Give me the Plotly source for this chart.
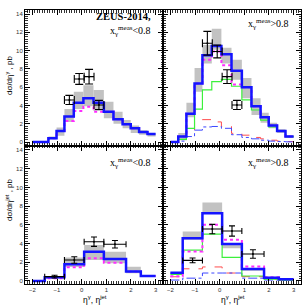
import plotly.graph_objects as go
from plotly.subplots import make_subplots

# ---------------- data ----------------
gam_edges = [-2.0, -1.68, -1.35, -1.02, -0.70, -0.32, 0.07, 0.48, 0.90, 1.29, 1.66, 1.99, 2.33, 2.67, 3.0]
jet_edges = [-2.0, -1.5, -0.7, 0.1, 0.9, 1.8, 2.4, 3.0]

# top-left: x_gamma^meas < 0.8, dsigma/deta^gamma
tl_blue = [0, 0, 0.4, 1.2, 2.8, 4.3, 4.8, 4.3, 3.3, 2.5, 1.95, 1.5, 1.1, 0.87]
tl_pink = [0, 0, 0.4, 1.2, 2.3, 3.4, 3.85, 3.3, 3.3, 2.5, 1.95, 1.5, 1.1, 0.87]
tl_lo = [0, 0, 0.3, 0.7, 2.2, 3.6, 3.9, 3.4, 2.6, 2.0, 1.5, 1.0, 0.8, 0.6]
tl_hi = [0, 0, 0.6, 1.6, 3.6, 5.5, 6.2, 5.7, 4.4, 3.3, 2.4, 1.8, 1.3, 1.0]

# top-right: x_gamma^meas > 0.8, dsigma/deta^gamma
tr_blue = [0, 0.6, 3.1, 6.4, 9.5, 10.5, 9.6, 7.8, 6.0, 3.9, 2.7, 1.8, 1.2, 0.6]
tr_pink = [0, 0.6, 3.1, 6.4, 9.0, 9.9, 8.4, 6.3, 6.0, 3.9, 2.7, 1.8, 1.2, 0.6]
tr_lo = [0, 0.2, 2.7, 5.5, 8.6, 10.1, 8.6, 6.8, 4.8, 2.95, 2.1, 1.5, 1.0, 0.45]
tr_hi = [0, 1.0, 4.3, 8.1, 10.6, 12.4, 10.3, 9.0, 7.0, 4.8, 3.2, 2.1, 1.4, 0.75]
tr_green = [0, 0.3, 1.5, 3.6, 5.7, 6.6, 6.85, 6.1, 4.6, 3.5, 2.4, 1.65, 1.15, 0.6]
tr_red = [0, 0.2, 1.1, 2.4, 2.45, 2.2, 1.7, 0.95, 0.75, 0.5, 0.35, 0.2, 0.1, 0.05]
tr_dashdot = [0, 0.1, 0.6, 1.3, 1.65, 1.7, 1.5, 0.8, 0.5, 0.35, 0.2, 0.1, 0.05, 0.02]

# bottom-left: x_gamma^meas < 0.8, dsigma/deta^jet
bl_blue = [0, 0.4, 1.78, 3.13, 2.35, 1.0, 0.53]
bl_pink = [0, 0.3, 1.46, 2.42, 1.96, 1.0, 0.53]
bl_lo = [0, 0.25, 1.5, 2.24, 1.9, 0.82, 0.45]
bl_hi = [0, 0.5, 2.5, 3.85, 3.13, 1.53, 0.6]

# bottom-right: x_gamma^meas > 0.8, dsigma/deta^jet
br_blue = [0.89, 4.56, 7.25, 3.95, 1.27, 0.35, 0.18]
br_pink = [0.5, 3.15, 6.0, 4.4, 1.55, 0.4, 0.18]
br_lo = [0.7, 4.4, 7.2, 3.5, 1.1, 0.3, 0.1]
br_hi = [0.95, 5.3, 8.4, 4.0, 1.4, 0.45, 0.25]
br_green = [0.7, 3.3, 5.0, 2.53, 0.53, 0.2, 0.1]
br_red = [0.45, 1.3, 1.5, 0.85, 0.46, 0.2, 0.05]
br_dashdot = [0.1, 0.3, 0.85, 0.85, 0.3, 0.1, 0.05]

# ZEUS data
gam_x = [-0.5, -0.1, 0.3, 0.7]
gam_xerr = [0.2, 0.2, 0.2, 0.2]
tl_data = [4.6, 6.9, 7.15, 4.05]
tl_err = [0.5, 0.6, 0.8, 0.5]
tr_data = [10.8, 9.9, 7.15, 4.05]
tr_err = [1.3, 0.7, 0.75, 0.5]

jet_x = [-1.1, -0.3, 0.5, 1.35]
jet_xerr = [0.4, 0.4, 0.4, 0.45]
bl_data = [0.46, 2.24, 4.2, 3.92]
bl_err = [0.15, 0.35, 0.5, 0.4]
br_data = [2.2, 5.55, 5.34, 2.88]
br_err = [0.25, 0.5, 0.55, 0.45]

y_ticks = [0, 2, 4, 6, 8, 10, 12, 14]
x_ticks = [-2, -1, 0, 1, 2, 3]

# ---------------- figure ----------------
W = H = 305
fig = make_subplots(rows=2, cols=2, horizontal_spacing=0, vertical_spacing=0)


def step(edges, vals, color, width, dash, r, c):
    fig.add_trace(go.Scatter(x=edges, y=list(vals) + [vals[-1]], mode="lines",
                             line=dict(color=color, width=width, dash=dash, shape="hv"),
                             showlegend=False, hoverinfo="skip"), row=r, col=c)


def band(edges, lo, hi, r, c):
    centers = [(edges[i] + edges[i + 1]) / 2 for i in range(len(lo))]
    widths = [edges[i + 1] - edges[i] for i in range(len(lo))]
    fig.add_trace(go.Bar(x=centers, y=[h - l for l, h in zip(lo, hi)], base=lo, width=widths,
                         marker=dict(color="#c2c2c2", line=dict(width=0)),
                         showlegend=False, hoverinfo="skip"), row=r, col=c)


def data(x, xe, y, ye, r, c, cap):
    fig.add_trace(go.Scatter(x=x, y=y, mode="markers",
                             marker=dict(color="black", size=2),
                             error_x=dict(type="data", array=xe, color="black", thickness=1.1, width=cap),
                             error_y=dict(type="data", array=ye, color="black", thickness=1.1, width=cap),
                             showlegend=False, hoverinfo="skip"), row=r, col=c)


BLUE = "#1414ff"
PINK = "#ff2cff"
GREEN = "#3cf03c"
RED = "#ff4d4d"
DBLUE = "#3c46ff"

# top-left
band(gam_edges, tl_lo, tl_hi, 1, 1)
step(gam_edges, tl_pink, PINK, 2, "dot", 1, 1)
step(gam_edges, tl_blue, BLUE, 2.5, "solid", 1, 1)
data(gam_x, gam_xerr, tl_data, tl_err, 1, 1, 4)

# top-right
band(gam_edges, tr_lo, tr_hi, 1, 2)
step(gam_edges, tr_red, RED, 1, "dash", 1, 2)
step(gam_edges, tr_dashdot, DBLUE, 1, "dashdot", 1, 2)
step(gam_edges, tr_green, GREEN, 1.2, "solid", 1, 2)
step(gam_edges, tr_pink, PINK, 2, "dot", 1, 2)
step(gam_edges, tr_blue, BLUE, 2.5, "solid", 1, 2)
data(gam_x, gam_xerr, tr_data, tr_err, 1, 2, 4)

# bottom-left
band(jet_edges, bl_lo, bl_hi, 2, 1)
step(jet_edges, bl_pink, PINK, 2, "dot", 2, 1)
step(jet_edges, bl_blue, BLUE, 2.5, "solid", 2, 1)
data(jet_x, jet_xerr, bl_data, bl_err, 2, 1, 3)

# bottom-right
band(jet_edges, br_lo, br_hi, 2, 2)
step(jet_edges, br_red, RED, 1, "dash", 2, 2)
step(jet_edges, br_dashdot, DBLUE, 1, "dashdot", 2, 2)
step(jet_edges, br_green, GREEN, 1.2, "solid", 2, 2)
step(jet_edges, br_pink, PINK, 2, "dot", 2, 2)
step(jet_edges, br_blue, BLUE, 2.5, "solid", 2, 2)
data(jet_x, jet_xerr, br_data, br_err, 2, 2, 3)

# geometry (pixels -> paper)
xL0, xM, xR1 = 25 / W, 163 / W, 301 / W
yT1, yMid, yB0 = 1 - 10 / H, 1 - 145.5 / H, 1 - 283.5 / H

tickfont = dict(family="Liberation Sans, Arial, sans-serif", size=6, color="#333")
common = dict(showline=True, linecolor="black", linewidth=1, mirror="allticks",
              ticks="inside", ticklen=5, tickwidth=1, tickcolor="black",
              showgrid=False, zeroline=False, tickfont=tickfont)

for r in (1, 2):
    for c in (1, 2):
        xd = [xL0, xM] if c == 1 else [xM, xR1]
        yd = [yMid, yT1] if r == 1 else [yB0, yMid]
        fig.update_xaxes(domain=xd, range=[-2.3, 3.3], tickvals=x_ticks,
                         showticklabels=(r == 2),
                         minor=dict(ticks="inside", dtick=0.1, tick0=0, ticklen=2.5,
                                    tickcolor="black", tickwidth=0.8),
                         **common, row=r, col=c)
        yr = [-0.38, 14.44] if r == 1 else [-0.27, 14.48]
        fig.update_yaxes(domain=yd, range=yr, tickvals=y_ticks,
                         showticklabels=(c == 1),
                         minor=dict(ticks="inside", dtick=0.25, tick0=0, ticklen=2.5,
                                    tickcolor="black", tickwidth=0.8),
                         **common, row=r, col=c)

serif = "Liberation Serif, Times New Roman, serif"
sans = "Liberation Sans, Arial, sans-serif"
ann = []


def A(text, px, py, size, family, xanchor="center", angle=0, yanchor="middle"):
    ann.append(dict(text=text, x=px / W, y=1 - py / H, xref="paper", yref="paper",
                    showarrow=False, xanchor=xanchor, yanchor=yanchor, textangle=angle,
                    font=dict(family=family, size=size, color="black")))


A("<b>ZEUS-2014,</b>", 153, 17, 10.5, serif, xanchor="right")
A("x<sub>γ</sub><sup>meas</sup>&lt;0.8", 153, 31, 10, serif, xanchor="right")
A("x<sub>γ</sub><sup>meas</sup>&gt;0.8", 291, 24, 10, serif, xanchor="right")
A("x<sub>γ</sub><sup>meas</sup>&lt;0.8", 153, 163, 10, serif, xanchor="right")
A("x<sub>γ</sub><sup>meas</sup>&gt;0.8", 291, 163, 10, serif, xanchor="right")
A("dσ/dη<sup>γ</sup> , pb", 9, 76, 8, sans, angle=-90)
A("dσ/dη<sup>jet</sup> , pb", 9, 200, 8, sans, angle=-90)
A("η<sup>γ</sup>, η<sup>jet</sup>", 95, 299, 8.5, sans)
A("η<sup>γ</sup>, η<sup>jet</sup>", 233, 299, 8.5, sans)

fig.update_layout(width=W, height=H, margin=dict(l=0, r=0, t=0, b=0),
                  paper_bgcolor="white", plot_bgcolor="white",
                  barmode="overlay", showlegend=False, annotations=ann)

fig.write_html("out.html", config={"displayModeBar": False, "staticPlot": True},
               post_script="document.body.style.margin='0px';document.body.style.overflow='hidden';")
